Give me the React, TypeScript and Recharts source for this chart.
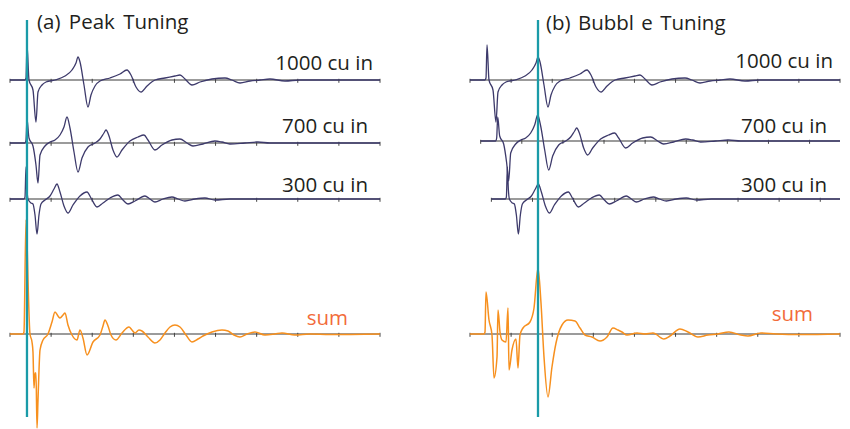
import { LineChart, Line, XAxis, YAxis, ReferenceLine } from "recharts";

// time axis (arbitrary units), tick marks every 10
const tickTimes = [0, 10, 20, 30, 40, 50, 60, 70, 80, 90];

// 1000 cu in trace
const t1000 = [0, 3.65, 3.89, 4.14, 4.62, 5.59, 6.32, 6.81, 7.78, 8.76, 10.95, 13.38, 15.08, 16.05, 16.54, 17.03, 18.0, 18.97, 19.7, 20.68, 21.89, 24.32, 26.76, 28.46, 29.43, 30.65, 31.87, 33.33, 35.27, 37.7, 40.14, 41.35, 42.57, 44.27, 46.22, 49.14, 52.3, 54.0, 55.95, 58.38, 60.81, 63.24, 66.89, 70.54, 90];
const a1000 = [0, 0, 1, 17.5, 0, -5, -21, -6, -2.5, -1, 0, 2, 5, 8.5, 11.5, 9, -2.5, -13.5, -7.5, -3, -0.5, 1, 3, 5, 2.5, -3.5, -6, -3, 0, 1, 2, 2.5, 0.5, -2.5, -1, 0.5, 1, 0, -1.5, -0.5, 0, 0.5, -0.5, 0, 0];

// 700 cu in trace
const t700 = [0, 3.65, 3.89, 4.14, 4.62, 5.59, 6.32, 6.81, 7.3, 8.51, 9.73, 10.95, 12.16, 13.13, 13.86, 14.59, 15.57, 16.54, 17.51, 18.97, 20.67, 21.89, 22.86, 23.35, 24.08, 25.05, 26.02, 27.24, 29.18, 31.13, 32.59, 33.56, 35.26, 36.96, 39.4, 41.34, 43.04, 44.5, 46.93, 49.85, 51.55, 53.5, 57.14, 60.3, 63.22, 90];
const a700 = [0, 0, 1.5, 12, 2.5, -1.5, -11, -20, -6, -1.5, 0.5, 1.5, 4, 8, 13, 7.5, -4.5, -14.5, -7.5, -2, 0, 2, 5, 6.5, 3.5, -3.5, -7, -3.5, 1, 3, 4, 1.5, -3.5, -1, 1.5, 2, 0, -1.5, -0.5, 1, 0.5, -0.5, 0, 0.5, 0, 0];

// 300 cu in trace
const t300 = [0, 3.4, 3.65, 3.89, 4.14, 4.38, 5.11, 5.59, 6.08, 6.57, 7.05, 7.54, 8.51, 9.73, 10.7, 11.43, 12.16, 13.13, 14.1, 15.32, 17.02, 18.73, 19.7, 21.16, 22.62, 24.32, 26.26, 27.48, 28.7, 30.4, 32.83, 34.05, 35.26, 37.2, 39.4, 40.86, 42.56, 44.99, 47.42, 49.86, 53.5, 90];
const a300 = [0, 0, 1, 16, 4.5, 0, -2, -2.5, -8, -17.5, -8, -2.5, -0.5, 1.5, 5, 7.5, 3.5, -3.5, -7, -3, 1.5, 3.5, 0.5, -4, -2, 0.5, 2, -0.5, -2.5, -1, 1.5, 0, -1.5, 0, 1, 0, -1, 0, 0.5, -0.5, 0, 0];

// sum, peak tuning
const tSumA = [0, 3.16, 3.4, 3.89, 4.14, 4.38, 4.86, 5.35, 5.59, 5.84, 6.08, 6.32, 6.57, 6.81, 7.3, 8.03, 9.24, 10.21, 10.95, 11.67, 12.16, 12.89, 13.38, 14.1, 15.08, 16.29, 17.02, 17.75, 18.73, 20.19, 21.89, 22.62, 23.1, 23.84, 24.56, 25.78, 27.24, 28.94, 29.67, 30.4, 31.37, 32.1, 33.56, 35.26, 36.48, 37.7, 38.92, 40.13, 41.35, 42.81, 44.26, 45.72, 46.94, 49.13, 51.56, 53.02, 54.48, 55.94, 57.64, 59.59, 62.02, 64.45, 66.15, 69.31, 72.96, 77.82, 90];
const aSumA = [0, 0, 1, 57, 47, 27, 0, -4, -9, -27, -19.5, -19.5, -47, -33, -8, -3, 0, 6, 11, 9, 8, 9.5, 10.5, 4.5, -0.5, -3, 2, -2, -10.5, -4, -0.5, 4, 7, 4, -0.5, -3, 0.5, 3.5, 2, 0.5, 2, 1.5, -1.5, -4.5, -3, 0.5, 3.5, 4.5, 3.5, -0.5, -4, -2.5, -1, 1, 2, 1.5, -0.5, -1.5, 0, 1, -0.5, 0, 0.5, -0.5, 0, -0.25, 0];

// sum, bubble tuning
const tSumB = [0, 3.4, 3.65, 3.89, 4.62, 5.35, 5.84, 6.57, 6.81, 7.3, 7.78, 8.76, 9.24, 9.49, 10.21, 11.19, 11.67, 12.16, 12.89, 14.59, 15.57, 16.54, 17.27, 18.0, 18.97, 19.94, 20.92, 22.38, 23.84, 25.54, 26.76, 27.97, 29.67, 31.62, 33.32, 34.78, 36.0, 36.97, 38.19, 40.62, 42.56, 44.5, 47.18, 48.64, 51.07, 53.02, 55.45, 57.88, 60.31, 62.99, 65.9, 67.61, 70.77, 74.42, 80.5, 90];
const aSumB = [0, 0, 1, 21, 7, -0.5, -22, -11.5, 12, 1, -3, -4, 13, -18, -8, -2.5, -17, -0.5, 3, 6, 13, 33, 15.5, -11.5, -31.5, -16.5, -4.5, 4.5, 7, 6.5, 3, -0.5, -1.5, -3.5, -1.5, 3, 2, 1, -0.5, 0.5, 0, 0.5, -2.5, -1, 2.5, 1, -1.5, -0.5, 0, 1, -0.5, -1, 0.5, 0, -0.25, 0];

const traceLabels = ["1000 cu in", "700 cu in", "300 cu in"];
const sumLabel = "sum";

const NAVY = "#3d3a6b";
const ORANGE = "#f7901e";
const TEAL = "#1a9ba8";
const GRAY = "#7a7a7a";
const FONT = "'Open Sans', sans-serif";

const traces = [
	{ t: t1000, a: a1000 },
	{ t: t700, a: a700 },
	{ t: t300, a: a300 },
];

const build = (t: number[], a: number[], delay: number, offset: number) =>
	t.map((x, i) => ({ t: x + delay, v: offset + a[i] }));

interface PanelProps {
	left: number;
	margin: { top: number; right: number; left: number; bottom: number };
	offsets: number[];
	delays: number[];
	sumT: number[];
	sumA: number[];
	marker: number;
}

function Panel({ left, margin, offsets, delays, sumT, sumA, marker }: PanelProps) {
	const rows = [...traces.map((tr, i) => ({ ...tr, d: delays[i], o: offsets[i] })), { t: sumT, a: sumA, d: 0, o: offsets[3] }];
	return (
		<div style={{ position: "absolute", left, top: 0 }}>
			<LineChart width={425} height={429} margin={margin}>
				<XAxis type="number" dataKey="t" domain={[0, 90]} allowDataOverflow hide />
				<YAxis type="number" domain={[-214.5, 0]} allowDataOverflow hide />
				{rows.map((r, i) => (
					<Line
						key={"base" + i}
						data={[{ t: r.d, v: r.o }, { t: 90, v: r.o }]}
						dataKey="v"
						type="linear"
						stroke={GRAY}
						strokeWidth={1.6}
						dot={false}
						isAnimationActive={false}
					/>
				))}
				{rows.map((r, i) =>
					tickTimes
						.filter((k) => k + r.d <= 90)
						.map((k) => (
							<ReferenceLine
								key={"tick" + i + "-" + k}
								segment={[
									{ x: k + r.d, y: r.o + 0.6 },
									{ x: k + r.d, y: r.o - 1.4 },
								]}
								stroke="#444"
								strokeWidth={1}
							/>
						)),
				)}
				{traces.map((tr, i) => (
					<Line
						key={"trace" + i}
						data={build(tr.t, tr.a, delays[i], offsets[i])}
						dataKey="v"
						type="monotone"
						stroke={NAVY}
						strokeWidth={1.3}
						dot={false}
						isAnimationActive={false}
					/>
				))}
				<Line
					data={build(sumT, sumA, 0, offsets[3])}
					dataKey="v"
					type="monotone"
					stroke={ORANGE}
					strokeWidth={1.5}
					dot={false}
					isAnimationActive={false}
				/>
				<Line
					data={[{ t: marker, v: -10 }, { t: marker, v: -208.5 }]}
					dataKey="v"
					type="linear"
					stroke={TEAL}
					strokeWidth={2.3}
					dot={false}
					isAnimationActive={false}
				/>
			</LineChart>
		</div>
	);
}

export default function App() {
	const txt = { fontFamily: FONT, fontSize: 20.5, fill: "#231f20" };
	return (
		<div style={{ position: "absolute", left: 0, top: 0, width: 850, height: 429, background: "#fff" }}>
			<Panel
				left={0}
				margin={{ top: 0, right: 45, left: 10, bottom: 0 }}
				offsets={[-40, -71.5, -99.5, -167]}
				delays={[0, 0, 0]}
				sumT={tSumA}
				sumA={aSumA}
				marker={4.13}
			/>
			<Panel
				left={425}
				margin={{ top: 0, right: 10, left: 45, bottom: 0 }}
				offsets={[-40, -70.5, -99.5, -167]}
				delays={[0, 2.6, 5.2]}
				sumT={tSumB}
				sumA={aSumB}
				marker={16.54}
			/>
			<svg width={850} height={429} style={{ position: "absolute", left: 0, top: 0, pointerEvents: "none" }}>
				<text x={37} y={29} {...txt} wordSpacing={3}>(a) Peak Tuning</text>
				<text x={546} y={30} {...txt} wordSpacing={2}>(b) Bubbl e Tuning</text>
				<text x={373} y={70} textAnchor="end" {...txt}>{traceLabels[0]}</text>
				<text x={368} y={133} textAnchor="end" {...txt}>{traceLabels[1]}</text>
				<text x={368} y={192} textAnchor="end" {...txt}>{traceLabels[2]}</text>
				<text x={348} y={325} textAnchor="end" {...txt} fill="#f26b3a">{sumLabel}</text>
				<text x={833} y={68} textAnchor="end" {...txt}>{traceLabels[0]}</text>
				<text x={827} y={133} textAnchor="end" {...txt}>{traceLabels[1]}</text>
				<text x={827} y={192} textAnchor="end" {...txt}>{traceLabels[2]}</text>
				<text x={813} y={321} textAnchor="end" {...txt} fill="#f26b3a">{sumLabel}</text>
			</svg>
		</div>
	);
}
